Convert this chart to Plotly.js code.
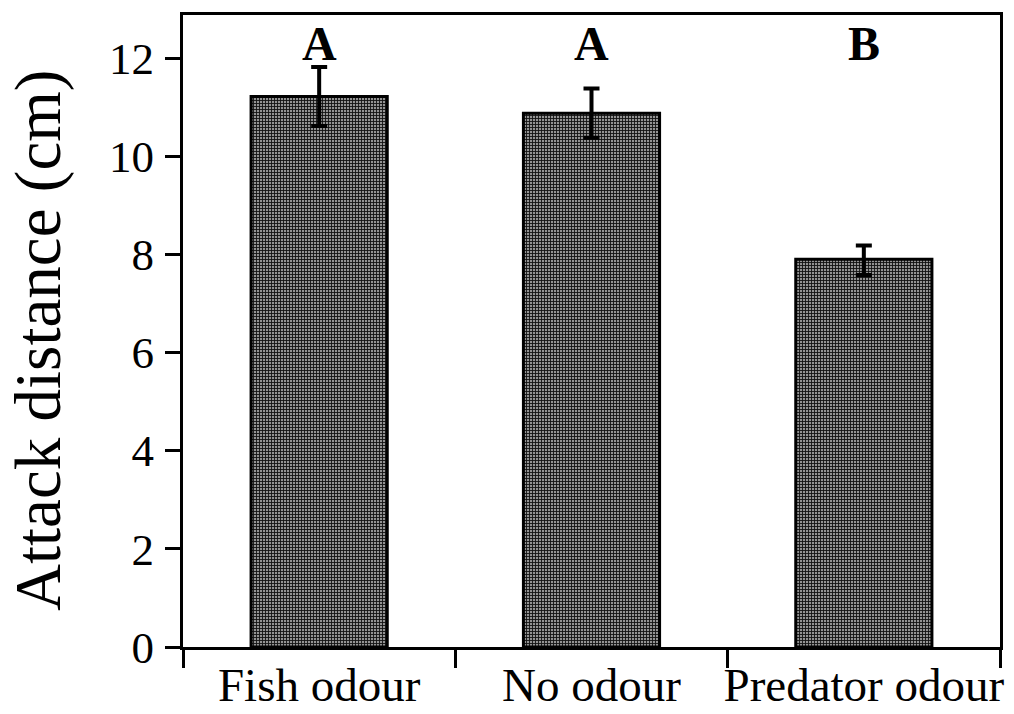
<!DOCTYPE html>
<html>
<head>
<meta charset="utf-8">
<script src="https://cdn.plot.ly/plotly-3.0.1.min.js"></script>
<style>html,body{margin:0;padding:0;background:#fff;}#chart{width:1014px;height:714px;}</style>
</head>
<body>
<div id="chart"></div>
<script>
const categories = ["Fish odour", "No odour", "Predator odour"];
const attackDistance = [11.22, 10.88, 7.9];
const errorPlus = [0.6, 0.5, 0.28];
const errorMinus = [0.6, 0.5, 0.32];
const groupLetters = ["A", "A", "B"];
const letterY = [12.29, 12.29, 12.29];
const yTicks = [0, 2, 4, 6, 8, 10, 12];
const yTitle = "Attack distance (cm)";

const serif = "'Liberation Serif', 'Times New Roman', Times, serif";

const trace = {
  type: "bar",
  x: categories,
  y: attackDistance,
  width: 0.5,
  marker: {
    color: "#808080",
    line: {color: "#000", width: 3},
    pattern: {shape: "+", fgcolor: "#111", bgcolor: "#939393", size: 3, solidity: 0.5}
  },
  error_y: {
    type: "data", symmetric: false,
    array: errorPlus, arrayminus: errorMinus,
    color: "#000", thickness: 4, width: 8
  },
  hoverinfo: "none"
};

const annotations = categories.map((c, i) => ({
  x: c, y: letterY[i], xref: "x", yref: "y",
  text: groupLetters[i], showarrow: false,
  font: {family: serif, size: 48, color: "#000", weight: "bold"},
  yanchor: "middle"
}));
annotations.push({
  x: -0.1775, y: 0.4858, xref: "paper", yref: "paper",
  text: yTitle, showarrow: false, textangle: -90,
  xanchor: "center", yanchor: "middle",
  font: {family: serif, size: 65, color: "#000"}
});

const layout = {
  width: 1014, height: 714,
  margin: {l: 183, r: 14, t: 15, b: 67, pad: 0},
  paper_bgcolor: "#fff", plot_bgcolor: "#fff",
  showlegend: false,
  font: {family: serif, color: "#000"},
  xaxis: {
    type: "category",
    range: [-0.5, 2.5],
    tickson: "boundaries",
    tickangle: 0,
    ticks: "outside", ticklen: 18, tickwidth: 3, tickcolor: "#000",
    ticklabelstandoff: -5,
    showline: true, linecolor: "#000", linewidth: 3, mirror: true,
    showgrid: false, zeroline: false,
    tickfont: {family: serif, size: 47, color: "#000"}
  },
  yaxis: {
    range: [0, 12.88],
    tickvals: yTicks,
    ticktext: yTicks.map(String),
    ticks: "outside", ticklen: 15, tickwidth: 3, tickcolor: "#000",
    ticklabelstandoff: 2,
    showline: true, linecolor: "#000", linewidth: 3, mirror: true,
    showgrid: false, zeroline: false,
    tickfont: {family: serif, size: 45, color: "#000"}
  },
  annotations: annotations
};

Plotly.newPlot("chart", [trace], layout, {displayModeBar: false, staticPlot: true});
</script>
</body>
</html>
